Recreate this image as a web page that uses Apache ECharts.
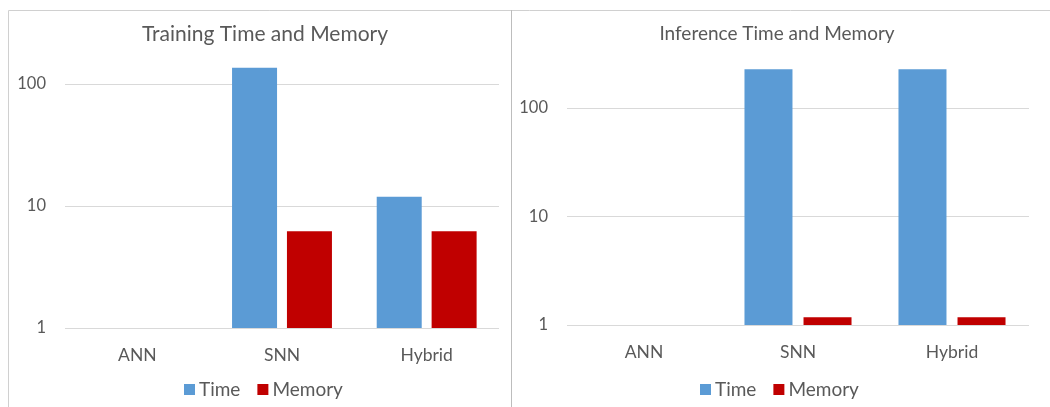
<!DOCTYPE html>
<html>
<head>
<meta charset="utf-8">
<script src="https://cdn.jsdelivr.net/npm/echarts@6/dist/echarts.min.js"></script>
<style>
  html, body { margin: 0; padding: 0; background: #fff; }
  #main { width: 1050px; height: 407px; }
</style>
</head>
<body>
<div id="main"></div>
<script>
// data (log scale, base 1)
const categories = ['ANN', 'SNN', 'Hybrid'];
const trainTime = [1, 135, 11.9];
const trainMemory = [1, 6.2, 6.2];
const inferTime = [1, 226, 226];
const inferMemory = [1, 1.18, 1.18];
const legendNames = ['Time', 'Memory'];

const textColor = '#595959';
const fontFam = 'Lato, "Open Sans", sans-serif';
const blue = '#5B9BD5';
const red = '#C00000';

var myChart = echarts.init(document.getElementById('main'));

function yAxis(idx, max) {
  return {
    type: 'log',
    logBase: 10,
    gridIndex: idx,
    min: 1,
    max: max,
    axisLine: { show: false },
    axisTick: { show: false },
    axisLabel: {
      color: textColor, fontFamily: fontFam, fontSize: 16.5, margin: 19,
      showMaxLabel: false
    },
    splitLine: { showMaxLine: false, lineStyle: { color: '#D9D9D9', width: 1 } }
  };
}
function xAxis(idx) {
  return {
    type: 'category',
    gridIndex: idx,
    data: categories,
    axisLine: { show: false },
    axisTick: { show: false },
    axisLabel: { color: textColor, fontFamily: fontFam, fontSize: 17.5, margin: 18 }
  };
}
function legend(left) {
  return {
    data: legendNames,
    left: left,
    top: 375,
    itemWidth: 11,
    itemHeight: 11,
    itemGap: 17,
    icon: 'rect',
    textStyle: { color: textColor, fontFamily: fontFam, fontSize: 19, padding: [0, 0, 0, -1] }
  };
}

var option = {
  animation: false,
  title: [
    { text: 'Training Time and Memory', left: 260, top: 19, textAlign: 'center',
      textStyle: { color: textColor, fontFamily: fontFam, fontSize: 21, fontWeight: 'normal' } },
    { text: 'Inference Time and Memory', left: 772, top: 19, textAlign: 'center',
      textStyle: { color: textColor, fontFamily: fontFam, fontSize: 19, fontWeight: 'normal' } }
  ],
  legend: [legend(179), legend(695)],
  grid: [
    { left: 65, right: 551, top: 47, bottom: 79 },
    { left: 567, right: 21, top: 56, bottom: 82 }
  ],
  xAxis: [xAxis(0), xAxis(1)],
  yAxis: [yAxis(0, 200), yAxis(1, 300)],
  graphic: [
    { type: 'polyline', shape: { points: [[8.5, 420], [8.5, 10.5], [1060, 10.5]] },
      style: { stroke: '#D0D0D0', lineWidth: 1, fill: null }, silent: true },
    { type: 'line', shape: { x1: 511.5, y1: 10, x2: 511.5, y2: 420 },
      style: { stroke: '#BDBDBD', lineWidth: 1 }, silent: true }
  ],
  series: [
    { name: 'Time', type: 'bar', xAxisIndex: 0, yAxisIndex: 0, data: trainTime,
      barWidth: 45, barGap: '22%', itemStyle: { color: blue } },
    { name: 'Memory', type: 'bar', xAxisIndex: 0, yAxisIndex: 0, data: trainMemory,
      barWidth: 45, barGap: '22%', itemStyle: { color: red } },
    { name: 'Time', type: 'bar', xAxisIndex: 1, yAxisIndex: 1, data: inferTime,
      barWidth: 48, barGap: '23%', itemStyle: { color: blue } },
    { name: 'Memory', type: 'bar', xAxisIndex: 1, yAxisIndex: 1, data: inferMemory,
      barWidth: 48, barGap: '23%', itemStyle: { color: red } }
  ]
};
myChart.setOption(option);
</script>
</body>
</html>
